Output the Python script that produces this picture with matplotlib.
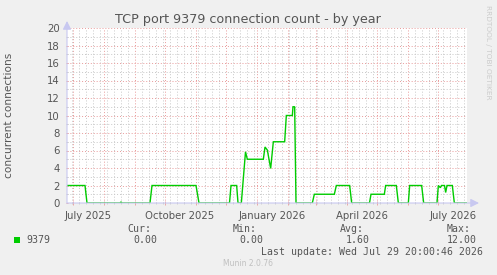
import matplotlib
matplotlib.use("Agg")
import matplotlib.pyplot as plt
import matplotlib.dates as mdates
from matplotlib.ticker import MultipleLocator, NullFormatter
import pandas as pd

# ---------------- data ----------------
title = "TCP port 9379 connection count - by year"
ylabel = "concurrent connections"
series_name = "9379"

times = [
    "2025-06-24 20:00", "2025-07-12 20:00", "2025-07-14 20:00", "2025-08-16 20:00",
    "2025-08-17 20:00", "2025-08-18 20:00", "2025-09-15 20:00", "2025-09-17 20:00",
    "2025-10-31 20:00", "2025-11-03 20:00", "2025-12-04 08:00", "2025-12-05 20:00",
    "2025-12-11 12:00", "2025-12-12 20:00", "2025-12-16 04:00", "2025-12-20 08:00",
    "2025-12-22 04:00", "2026-01-07 04:00", "2026-01-08 20:00", "2026-01-11 04:00",
    "2026-01-14 12:00", "2026-01-17 04:00", "2026-01-28 12:00", "2026-01-30 04:00",
    "2026-02-05 04:00", "2026-02-05 20:00", "2026-02-07 12:00", "2026-02-08 20:00",
    "2026-02-25 04:00", "2026-02-27 04:00", "2026-03-19 04:00", "2026-03-21 04:00",
    "2026-04-03 12:00", "2026-04-05 12:00", "2026-04-23 08:00", "2026-04-24 20:00",
    "2026-05-08 04:00", "2026-05-09 12:00", "2026-05-20 04:00", "2026-05-22 04:00",
    "2026-06-01 04:00", "2026-06-02 12:00", "2026-06-14 12:00", "2026-06-16 12:00",
    "2026-06-29 20:00", "2026-07-01 04:00", "2026-07-03 04:00", "2026-07-04 08:00",
    "2026-07-07 08:00", "2026-07-08 12:00", "2026-07-09 20:00", "2026-07-15 04:00",
    "2026-07-17 04:00", "2026-07-29 20:00",
]
values = [
    2, 2, 0, 0,
    0.12, 0, 0, 2,
    2, 0, 0, 2,
    2, 0, 0, 5.85,
    5.0, 5.0, 6.4, 6.05,
    3.95, 7.0, 7.0, 10.0,
    10.0, 11.0, 11.0, 0,
    0, 1, 1, 2,
    2, 0, 0, 1,
    1, 2, 2, 0,
    0, 2, 2, 0,
    0, 2, 1.75, 2,
    2, 1.2, 2, 2,
    0, 0,
]

x_start = "2025-06-24 20:00:46"
x_end = "2026-07-29 20:00:46"
y_max = 20
x_label_dates = ["2025-07-15 12:00", "2025-10-15 12:00", "2026-01-15 12:00",
                 "2026-04-15 12:00", "2026-07-15 12:00"]
x_labels = ["July 2025", "October 2025", "January 2026", "April 2026", "July 2026"]

stat_names = ["Cur:", "Min:", "Avg:", "Max:"]
stat_values = ["0.00", "0.00", "1.60", "12.00"]
last_update = "Last update: Wed Jul 29 20:00:46 2026"
footer = "Munin 2.0.76"
watermark = "RRDTOOL / TOBI OETIKER"

# ---------------- styling ----------------
W, H = 497, 275
BG = "#F0F0F0"
LINE = "#00CC00"
MAJ = "#E89A9A"
MIN = "#C8C8C8"
AXIS = "#C8C8F0"
TXT = "#555555"

fig = plt.figure(figsize=(W / 100, H / 100), dpi=100, facecolor=BG)

def fx(px):
    return px / W

def fy(py):
    return 1 - py / H

L, R, T, B = 67, 467, 28, 203
ax = fig.add_axes([fx(L), fy(B), (R - L) / W, (B - T) / H])
ax.set_facecolor("white")

t = pd.to_datetime(times)
ax.plot(t, values, color=LINE, lw=1.0, solid_joinstyle="miter", zorder=5)

ax.set_xlim(pd.Timestamp(x_start), pd.Timestamp(x_end))
ax.set_ylim(0, y_max)

# grids
ax.yaxis.set_major_locator(MultipleLocator(2))
ax.yaxis.set_minor_locator(MultipleLocator(1))
ax.xaxis.set_major_locator(mdates.MonthLocator())
ax.xaxis.set_minor_locator(mdates.WeekdayLocator(byweekday=mdates.MO))
ax.xaxis.set_major_formatter(NullFormatter())
ax.grid(which="major", color=MAJ, lw=0.7, ls=(0, (1, 2)), zorder=1)
ax.grid(which="minor", color=MIN, lw=0.7, ls=(0, (1, 2)), zorder=0)
ax.set_axisbelow(True)

ax.tick_params(axis="y", which="major", labelsize=7.3, labelcolor=TXT,
               length=2, width=0.6, color=MAJ, pad=4, direction="inout")
ax.tick_params(axis="y", which="minor", length=2, width=0.6, color=MIN, direction="inout")
ax.tick_params(axis="x", which="major", length=3, width=0.6, color=MAJ, direction="inout")
ax.tick_params(axis="x", which="minor", length=2, width=0.6, color=MIN, direction="inout")

for s in ax.spines.values():
    s.set_visible(False)

# x labels centred mid-month
for d, lab in zip(x_label_dates, x_labels):
    ax.text(pd.Timestamp(d), -0.045, lab, transform=ax.get_xaxis_transform(),
            ha="center", va="top", fontsize=7.3, color=TXT)

# axis lines with arrows
ax.annotate("", xy=(1 + 12 / (R - L), 0), xytext=(0, 0), xycoords="axes fraction",
            arrowprops=dict(arrowstyle="-|>,head_length=0.5,head_width=0.25",
                            color=AXIS, lw=0.8, shrinkA=0, shrinkB=0),
            annotation_clip=False, zorder=6)
ax.annotate("", xy=(0, 1 + 7 / (B - T)), xytext=(0, 0), xycoords="axes fraction",
            arrowprops=dict(arrowstyle="-|>,head_length=0.5,head_width=0.25",
                            color=AXIS, lw=0.8, shrinkA=0, shrinkB=0),
            annotation_clip=False, zorder=6)

# titles
fig.text(fx(248), fy(19), title, ha="center", va="center", fontsize=9.2, color=TXT)
fig.text(fx(9), fy(115), ylabel, ha="center", va="center", rotation=90,
         fontsize=7.6, color=TXT)
fig.text(fx(488), fy(5), watermark, ha="center", va="top", rotation=270,
         fontsize=5.3, color="#CCCCCC")

# legend
mono = "DejaVu Sans Mono"
fig.patches.append(plt.Rectangle((fx(14), fy(243)), 6 / W, 6 / H, transform=fig.transFigure,
                                 facecolor=LINE, edgecolor="none"))
fig.text(fx(26), fy(240), series_name, family=mono, fontsize=7.15, color=TXT,
         ha="left", va="center")
name_x = [127, 233, 340, 447]
val_x = [133, 239, 346, 447]
for nx, vx, n, v in zip(name_x, val_x, stat_names, stat_values):
    fig.text(fx(nx), fy(228.5), n, family=mono, fontsize=7.15, color=TXT, ha="left", va="center")
    fig.text(fx(vx), fy(240), v, family=mono, fontsize=7.15, color=TXT, ha="left", va="center")
fig.text(fx(261), fy(252), last_update, family=mono, fontsize=7.15, color=TXT,
         ha="left", va="center")
fig.text(fx(248), fy(264), footer, fontsize=5.5, color="#C0C0C0", ha="center", va="center")

fig.savefig("out.png", dpi=100, facecolor=BG)
